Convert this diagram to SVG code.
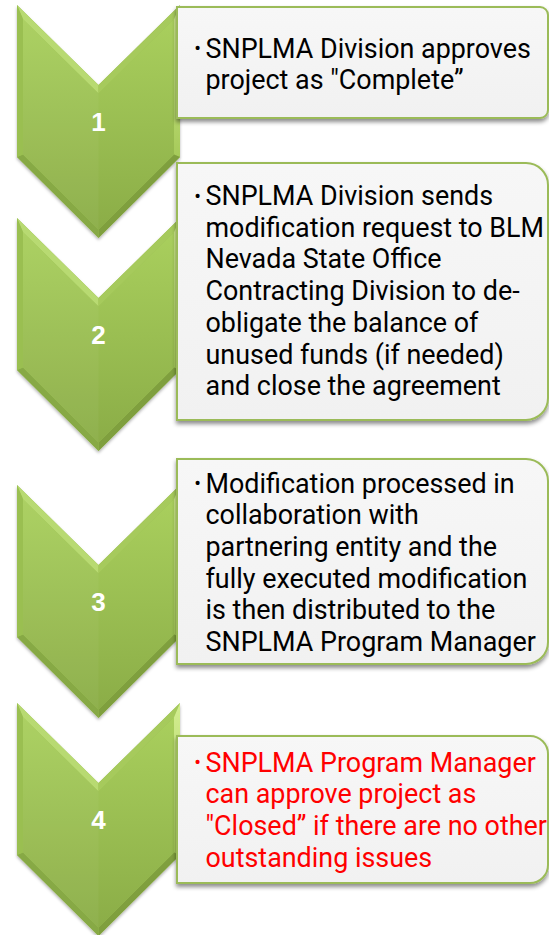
<svg xmlns="http://www.w3.org/2000/svg" xmlns:xlink="http://www.w3.org/1999/xlink" width="549" height="935" viewBox="0 0 549 935">
<defs>
  <linearGradient id="chevMain" x1="0" y1="0" x2="0" y2="1">
    <stop offset="0" stop-color="#a9cf5d"/>
    <stop offset="1" stop-color="#8bad47"/>
  </linearGradient>
  <linearGradient id="chevRight" x1="0" y1="0" x2="0" y2="1">
    <stop offset="0" stop-color="#d3ee90"/>
    <stop offset="1" stop-color="#a6ca5a"/>
  </linearGradient>
  <linearGradient id="boxFill" x1="0" y1="0" x2="0" y2="1">
    <stop offset="0" stop-color="#f7f7f7"/>
    <stop offset="1" stop-color="#f1f1f1"/>
  </linearGradient>
  <filter id="boxShadow" x="-10%" y="-10%" width="120%" height="130%">
    <feDropShadow dx="0" dy="3" stdDeviation="2.2" flood-color="#000" flood-opacity="0.45"/>
  </filter>
  <filter id="chevShadow" x="-10%" y="-10%" width="120%" height="120%">
    <feDropShadow dx="0" dy="2" stdDeviation="1.5" flood-color="#000" flood-opacity="0.3"/>
  </filter>
  <g id="chev">
    <g filter="url(#chevShadow)">
      <polygon points="17,0 98.5,80 180,0 180,152 98.5,233 17,152" fill="#9cc153"/>
    </g>
    <polygon points="17,0 98.5,80 98.5,88.4 23,14.3" fill="#b8da72"/>
    <polygon points="98.5,80 180,0 174,14.3 98.5,88.4" fill="#a6ca5c"/>
    <polygon points="180,0 180,152 174,149.6 174,14.3" fill="url(#chevRight)"/>
    <polygon points="180,152 98.5,233 98.5,224.6 174,149.6" fill="#7f9f3e"/>
    <polygon points="17,152 23,149.6 98.5,224.6 98.5,233" fill="#87a945"/>
    <polygon points="17,152 17,0 23,14.3 23,149.6" fill="#9abf51"/>
    <polygon points="23,14.3 98.5,88.4 174,14.3 174,149.6 98.5,224.6 23,149.6" fill="url(#chevMain)"/>
    <polygon points="23,14.3 98.5,88.4 98.5,224.6 23,149.6" fill="#ffffff" opacity="0.04"/>
  </g>
</defs>
<style>
  .box { fill: url(#boxFill); stroke: #9bbb59; stroke-width: 2; filter: url(#boxShadow); }
  .num { font-family: "Liberation Sans", Arial, sans-serif; font-size: 26px; font-weight: bold; fill: #ffffff; text-anchor: middle; }
  .txt { font-family: Roboto, "Noto Sans", sans-serif; font-size: 26.9px; fill: #000000; }
  .red { fill: #ff0000; }
  .bul { font-family: Roboto, "Noto Sans", sans-serif; font-size: 20px; text-anchor: middle; }
</style>
<rect width="549" height="935" fill="#ffffff"/>
<g id="connectors"></g>

<g id="step1">
  <use xlink:href="#chev" href="#chev" y="5"/>
  <text class="num" x="98.5" y="131">1</text>
</g>
<g id="box1">
  <path class="box" d="M177,7 H540 A8,8 0 0 1 548,15 V110 A8,8 0 0 1 540,118 H177 Z"/>
  <text class="bul" x="197.5" y="55">•</text>
  <text class="txt" x="205.5" y="57.5"><tspan x="205.5">SNPLMA Division approves</tspan><tspan x="205.5" dy="31.7">project as "Complete”</tspan></text>
</g>

<g id="step2">
  <use xlink:href="#chev" href="#chev" y="218"/>
  <text class="num" x="98.5" y="344">2</text>
</g>
<g id="box2">
  <path class="box" d="M177,163 H526 A22,22 0 0 1 548,185 V398 A22,22 0 0 1 526,420 H177 Z"/>
  <text class="bul" x="197.5" y="202.5">•</text>
  <text class="txt" x="205.5" y="205"><tspan x="205.5">SNPLMA Division sends</tspan><tspan x="205.5" dy="31.7">modification request to BLM</tspan><tspan x="205.5" dy="31.7">Nevada State Office</tspan><tspan x="205.5" dy="31.7">Contracting Division to de-</tspan><tspan x="205.5" dy="31.7">obligate the balance of</tspan><tspan x="205.5" dy="31.7">unused funds (if needed)</tspan><tspan x="205.5" dy="31.7">and close the agreement</tspan></text>
</g>

<g id="step3">
  <use xlink:href="#chev" href="#chev" y="485"/>
  <text class="num" x="98.5" y="611">3</text>
</g>
<g id="box3">
  <path class="box" d="M177,459 H526 A22,22 0 0 1 548,481 V642 A22,22 0 0 1 526,664 H177 Z"/>
  <text class="bul" x="197.5" y="490">•</text>
  <text class="txt" x="205.5" y="492.5"><tspan x="205.5">Modification processed in</tspan><tspan x="205.5" dy="31.7">collaboration with</tspan><tspan x="205.5" dy="31.7">partnering entity and the</tspan><tspan x="205.5" dy="31.7">fully executed modification</tspan><tspan x="205.5" dy="31.7">is then distributed to the</tspan><tspan x="205.5" dy="31.7">SNPLMA Program Manager</tspan></text>
</g>

<g id="step4">
  <use xlink:href="#chev" href="#chev" y="703"/>
  <text class="num" x="98.5" y="829">4</text>
</g>
<g id="box4">
  <path class="box" d="M177,736 H530 A18,18 0 0 1 548,754 V865 A18,18 0 0 1 530,883 H177 Z"/>
  <text class="bul red" x="197.5" y="769">•</text>
  <text class="txt red" x="205.5" y="771.5"><tspan x="205.5">SNPLMA Program Manager</tspan><tspan x="205.5" dy="31.7">can approve project as</tspan><tspan x="205.5" dy="31.7">"Closed” if there are no other</tspan><tspan x="205.5" dy="31.7">outstanding issues</tspan></text>
</g>
</svg>
